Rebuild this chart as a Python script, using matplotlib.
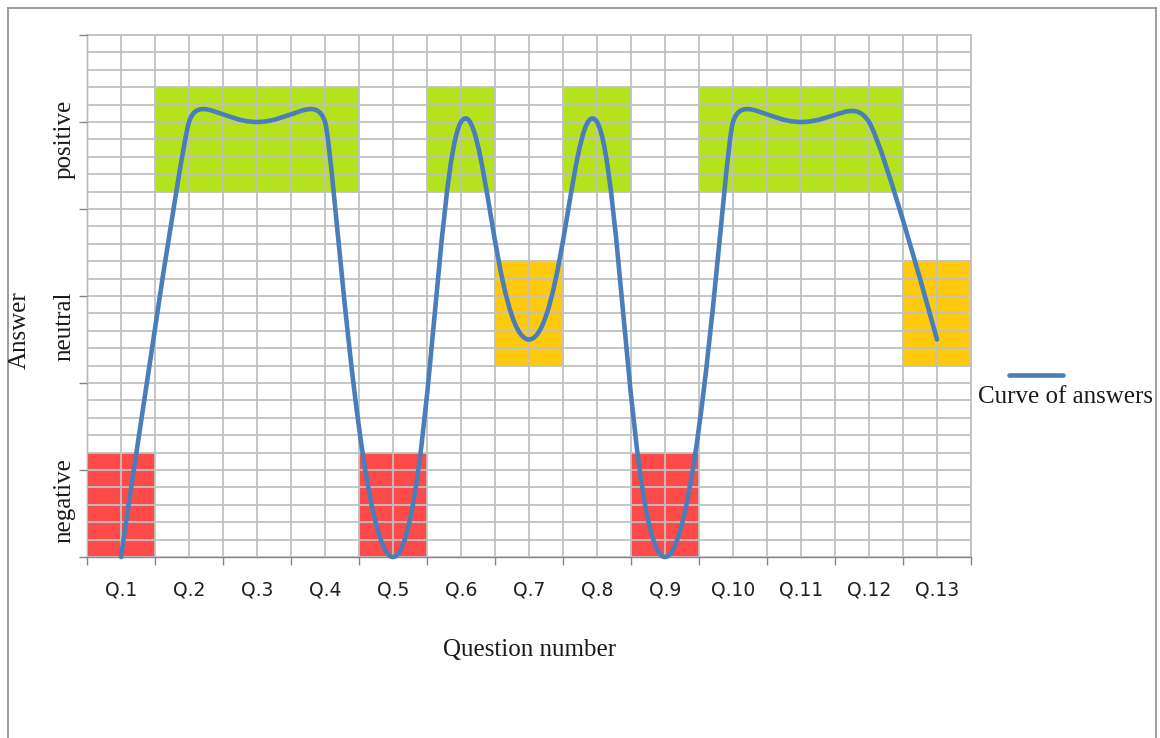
import numpy as np
import matplotlib
matplotlib.use("Agg")
import matplotlib.pyplot as plt
from matplotlib.path import Path
from matplotlib.patches import PathPatch, Rectangle
from matplotlib.lines import Line2D
from matplotlib.ticker import MultipleLocator, FixedLocator, NullFormatter

# ---- data -------------------------------------------------------------
questions = [f"Q.{i}" for i in range(1, 14)]
answers = [0, 5, 5, 5, 0, 5, 2.5, 5, 0, 5, 5, 5, 2.5]

answer_levels = ["negative", "neutral", "positive"]
level_label_y = [0.65, 2.65, 4.8]

# shaded answer zones: first/last question (1-based) and the answer level
zone_first = [1, 5, 9, 7, 13, 2, 6, 8, 10]
zone_last = [1, 5, 9, 7, 13, 4, 6, 8, 12]
zone_level = ["negative"] * 3 + ["neutral"] * 2 + ["positive"] * 4
zone_span = {"negative": (0.0, 1.2), "neutral": (2.2, 3.4), "positive": (4.2, 5.4)}
zone_color = {"negative": "#ff4a4a", "neutral": "#ffc90e", "positive": "#b4e31e"}

# ---- figure -----------------------------------------------------------
W, H = 1160, 738
fig = plt.figure(figsize=(W / 100, H / 100), dpi=100)
fig.patch.set_facecolor("white")

left, right, top, bottom = 87, 971, 35, 557
ax = fig.add_axes([left / W, 1 - bottom / H, (right - left) / W, (bottom - top) / H])
ax.set_xlim(0, 13)
ax.set_ylim(0, 6)

serif = ["Liberation Serif", "DejaVu Serif"]
text_col = "#1a1a1a"

# coloured zones (under the grid)
for f, l, lev in zip(zone_first, zone_last, zone_level):
    y0, y1 = zone_span[lev]
    ax.add_patch(Rectangle((f - 1, y0), l - f + 1, y1 - y0,
                           facecolor=zone_color[lev], edgecolor="none", zorder=0.5))

# grid
ax.xaxis.set_major_locator(MultipleLocator(1))
ax.xaxis.set_minor_locator(FixedLocator(np.arange(len(questions)) + 0.5))
ax.yaxis.set_major_locator(MultipleLocator(1))
ax.yaxis.set_minor_locator(MultipleLocator(0.2))
ax.grid(True, which="both", color="#c0c0c0", lw=1.3, zorder=1)
ax.set_axisbelow(False)
for gl in ax.get_xgridlines() + ax.get_ygridlines():
    gl.set_zorder(1)

ax.xaxis.set_major_formatter(NullFormatter())
ax.xaxis.set_minor_formatter(plt.FixedFormatter(questions))
ax.yaxis.set_major_formatter(NullFormatter())
ax.yaxis.set_minor_formatter(NullFormatter())
ax.tick_params(axis="x", which="major", direction="out", length=6, width=1, color="#868686")
ax.tick_params(axis="x", which="minor", length=0, pad=17, labelsize=13.5, labelcolor="#202020")
ax.tick_params(axis="y", which="major", direction="out", length=6, width=1, color="#868686")
ax.tick_params(axis="y", which="minor", length=0)

for side in ("left", "bottom"):
    ax.spines[side].set_color("#868686")
    ax.spines[side].set_linewidth(1.0)
for side in ("top", "right"):
    ax.spines[side].set_color("#c0c0c0")
    ax.spines[side].set_linewidth(1.3)
for sp in ax.spines.values():
    sp.set_zorder(2)

# answer level labels along the y axis
for name, yv in zip(answer_levels, level_label_y):
    ax.text(-0.33, yv, name, rotation=90, ha="center", va="center",
            fontsize=18, family=serif, color=text_col,
            transform=ax.transData, clip_on=False)


# smoothed curve through the answers (cubic Bezier segments; the handle
# length at each point is limited by the shorter neighbouring segment)
def smooth_path(xs, ys, sx, sy, k=0.5):
    P = np.column_stack([np.asarray(xs, float) * sx, np.asarray(ys, float) * sy])
    n = len(P)
    verts = [P[0]]
    codes = [Path.MOVETO]
    for i in range(n - 1):
        p0 = P[i - 1] if i > 0 else P[i]
        p1, p2 = P[i], P[i + 1]
        p3 = P[i + 2] if i + 2 < n else P[i + 1]
        d01 = np.hypot(*(p1 - p0))
        d12 = np.hypot(*(p2 - p1))
        d23 = np.hypot(*(p3 - p2))
        c1 = p1 + k * (p2 - p0) * min(d01, d12) / (d01 + d12)
        c2 = p2 - k * (p3 - p1) * min(d12, d23) / (d12 + d23)
        verts += [c1, c2, p2]
        codes += [Path.CURVE4] * 3
    verts = np.array(verts) / [sx, sy]
    return Path(verts, codes)


x_pos = np.arange(len(questions)) + 0.5
sx = (right - left) / 13.0
sy = (bottom - top) / 6.0
curve_color = "#4a7ebb"
ax.add_patch(PathPatch(smooth_path(x_pos, answers, sx, sy), facecolor="none",
                       edgecolor=curve_color, lw=3.3, capstyle="round",
                       joinstyle="round", zorder=3, clip_on=False))

# axis titles
fig.text(530 / W, 1 - 650 / H, "Question number", ha="center", va="center",
         fontsize=18, family=serif, color=text_col)
fig.text(20 / W, 1 - 330 / H, "Answer", ha="center", va="center", rotation=90,
         fontsize=18, family=serif, color=text_col)

# legend
fig.add_artist(Line2D([1009 / W, 1063 / W], [1 - 375 / H, 1 - 375 / H],
                      color=curve_color, lw=3.3, solid_capstyle="round"))
fig.text(1065 / W, 1 - 397 / H, "Curve of answers", ha="center", va="center",
         fontsize=18, family=serif, color=text_col)

# outer chart frame
frame_col = "#8c8c8c"
fig.add_artist(Line2D([8 / W, 8 / W], [0, 1 - 8 / H], color=frame_col, lw=1.2))
fig.add_artist(Line2D([1156 / W, 1156 / W], [0, 1 - 8 / H], color=frame_col, lw=1.2))
fig.add_artist(Line2D([8 / W, 1156 / W], [1 - 8 / H, 1 - 8 / H], color=frame_col, lw=1.2))

fig.savefig("out.png", dpi=100, facecolor="white")
